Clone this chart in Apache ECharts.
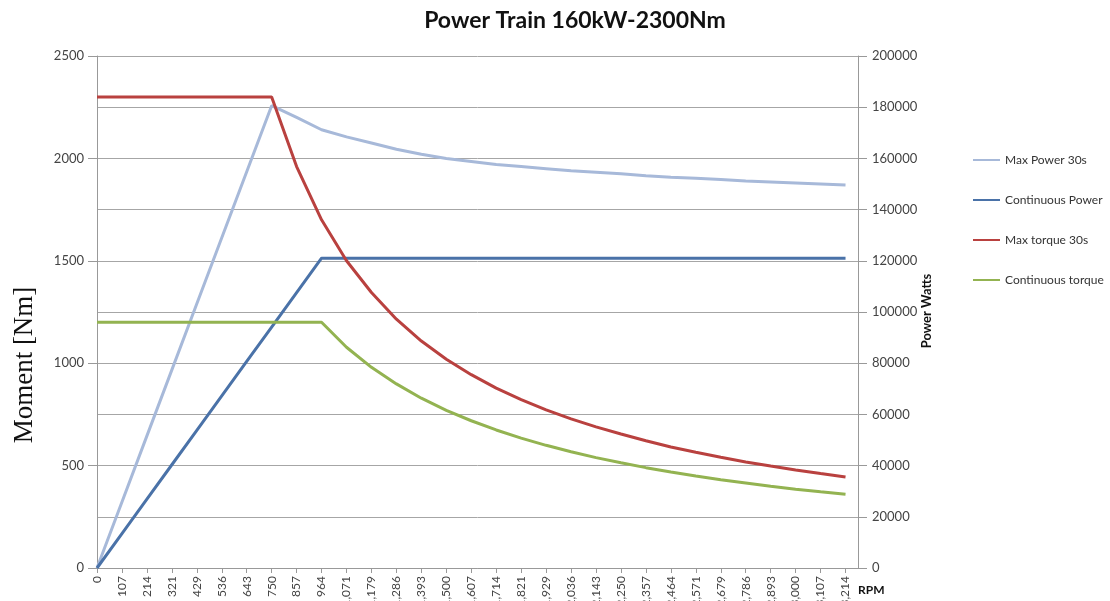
<!DOCTYPE html>
<html>
<head>
<meta charset="utf-8">
<script src="https://cdn.jsdelivr.net/npm/echarts@6/dist/echarts.min.js"></script>
<style>html,body{margin:0;padding:0;background:#fff}#c{width:1110px;height:601px}</style>
</head>
<body>
<div id="c"></div>
<script>
const rpmLabels = ['0','107','214','321','429','536','643','750','857','964','1,071','1,179','1,286','1,393','1,500','1,607','1,714','1,821','1,929','2,036','2,143','2,250','2,357','2,464','2,571','2,679','2,786','2,893','3,000','3,107','3,214'];
const maxPower30s = [0,25800,51600,77400,103200,129000,154800,180600,176000,171200,168400,166000,163600,161600,160000,158800,157600,156800,156000,155200,154600,154000,153200,152600,152200,151800,151200,150800,150400,150000,149600];
const contPower = [0,13444,26889,40333,53778,67222,80667,94111,107556,121000,121000,121000,121000,121000,121000,121000,121000,121000,121000,121000,121000,121000,121000,121000,121000,121000,121000,121000,121000,121000,121000];
const maxTorque30s = [2300,2300,2300,2300,2300,2300,2300,2300,1960,1700,1500,1345,1215,1108,1019,944,878,822,772,728,689,654,621,591,565,541,518,498,479,461,444];
const contTorque = [1200,1200,1200,1200,1200,1200,1200,1200,1200,1200,1078,980,899,829,770,719,674,634,599,568,539,514,490,469,449,431,415,399,385,372,360];
const leftTicks = {min:0, max:2500, interval:500};
const rightTicks = {min:0, max:200000, interval:20000};

const pairs = arr => arr.map((v,i)=>[i,v]);
const font = 'Lato, "Open Sans", sans-serif';
const chart = echarts.init(document.getElementById('c'));
const mk = (name, data, yIdx, color) => ({
  name, type:'line', yAxisIndex:yIdx, data:pairs(data), symbol:'none', smooth:false,
  lineStyle:{color, width:3}, itemStyle:{color}, z: 3
});
chart.setOption({
  animation:false,
  backgroundColor:'#fff',
  title:{text:'Power Train 160kW-2300Nm', left:570, top:4, textAlign:'center',
    textStyle:{fontFamily:font, fontWeight:'bold', fontSize:23, color:'#111'}},
  grid:{left:97, right:252, top:56, bottom:33, containLabel:false, outerBoundsMode:'none'},
  legend:{orient:'vertical', left:968, top:149, itemWidth:27, itemHeight:12, itemGap:28,
    icon:'path://M0,5 L27,5 L27,7 L0,7 Z',
    textStyle:{fontFamily:font, fontSize:12, color:'#333'},
    data:['Max Power 30s','Continuous Power','Max torque 30s','Continuous torque']},
  xAxis:{type:'value', min:0, max:30.5, interval:1,
    axisLine:{lineStyle:{color:'#999'}},
    axisTick:{show:true, length:5, lineStyle:{color:'#999'}},
    splitLine:{show:false},
    axisLabel:{rotate:90, margin:8, fontFamily:font, fontSize:12, color:'#444',
      showMaxLabel:false, hideOverlap:false,
      formatter:v => (Number.isInteger(v) && rpmLabels[v]!==undefined) ? rpmLabels[v] : ''}},
  yAxis:[
    {type:'value', position:'left', min:leftTicks.min, max:leftTicks.max, interval:leftTicks.interval,
      axisLine:{show:true, lineStyle:{color:'#999'}},
      axisTick:{show:true, length:9, lineStyle:{color:'#999'}},
      splitLine:{show:false},
      axisLabel:{margin:13, fontFamily:font, fontSize:13, color:'#444', formatter:v => String(v)}},
    {type:'value', position:'right', min:rightTicks.min, max:rightTicks.max, interval:rightTicks.interval,
      axisLine:{show:true, lineStyle:{color:'#999'}},
      axisTick:{show:true, length:9, lineStyle:{color:'#999'}},
      splitLine:{show:true, lineStyle:{color:'#a6a6a6', width:1}},
      axisLabel:{margin:14, fontFamily:font, fontSize:13, color:'#444', formatter:v => String(v)}}
  ],
  graphic:[
    {type:'text', x:25, y:365, rotation:Math.PI/2,
      style:{text:'Moment [Nm]', font:'27px "Liberation Serif", serif', fill:'#111', align:'center', verticalAlign:'middle'}},
    {type:'text', x:927, y:311, rotation:Math.PI/2,
      style:{text:'Power Watts', font:'bold 13px ' + font, fill:'#111', align:'center', verticalAlign:'middle'}},
    {type:'text', x:858, y:590,
      style:{text:'RPM', font:'bold 12px ' + font, fill:'#111', align:'left', verticalAlign:'middle'}}
  ],
  series:[
    mk('Max Power 30s', maxPower30s, 1, '#a7b9d9'),
    mk('Continuous Power', contPower, 1, '#4a72a8'),
    mk('Max torque 30s', maxTorque30s, 0, '#b9413f'),
    mk('Continuous torque', contTorque, 0, '#93b351')
  ]
});
</script>
</body>
</html>
